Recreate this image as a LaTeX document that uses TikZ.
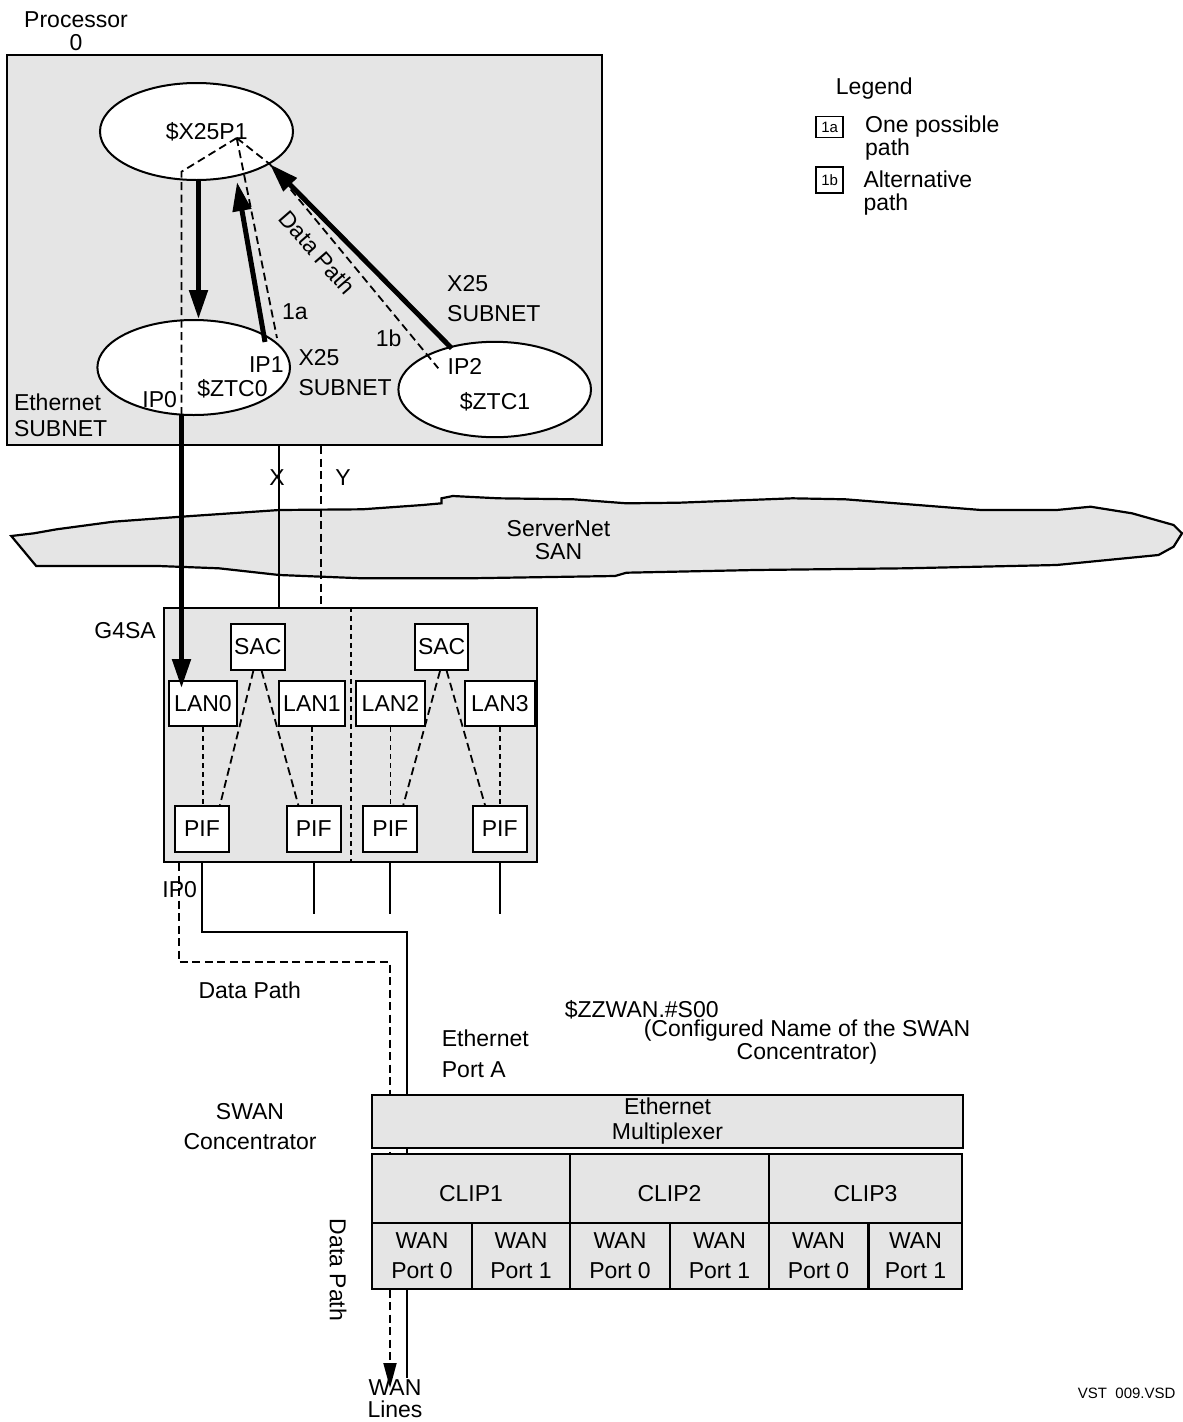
\documentclass[tikz,border=0pt]{standalone}
\usepackage{fontspec}
\setmainfont{Liberation Sans}
\usetikzlibrary{arrows.meta,shapes.geometric}
\pgfdeclarelayer{back}
\pgfsetlayers{back,main}
\definecolor{panel}{RGB}{229,229,229}
\newcommand\swfont{\fontsize{23}{23.5}\selectfont}
\tikzset{
  swan/.style={x=1pt,y=-1pt},
  txt/.style={inner sep=0pt,align=center,font=\swfont},
  frame/.style={draw,line width=2.2pt,fill=panel,inner sep=0pt},
  oval/.style={draw,line width=2pt,fill=white,ellipse,inner sep=0pt},
  unit/.style={draw,line width=2.2pt,fill=white,inner sep=0pt,minimum height=45.5,font=\swfont},
  cell/.style={draw,line width=2pt,fill=panel,inner sep=0pt,align=center,font=\swfont,
    execute at begin node=\rule{0pt}{27pt}},
  legbox/.style={draw,line width=1.8pt,inner sep=0pt,minimum width=27,font=\fontsize{15}{16}\selectfont},
  wire/.style={line width=2pt},
  dashpath/.style={line width=1.8pt,dash pattern=on 8pt off 4.5pt},
  dotpath/.style={line width=1.8pt,dash pattern=on 5pt off 4pt},
  fatarrow/.style={line width=5pt,-{Triangle[length=29pt,width=18pt]}},
}

\begin{document}
\begin{tikzpicture}[swan]
  \useasboundingbox (0,0) rectangle (1183,1422);
  % processor 0
  \node[frame,minimum width=594.6,minimum height=390] (cpu) at (304.3,250) {};
  \node[txt] (cpulbl) at (76,31.3) {Processor\\0};
  \node[oval,minimum width=193,minimum height=97] (x25p1) at (196.5,131.5) {};
  \node[oval,minimum width=192.6,minimum height=95] (ztc0) at (193.7,367.5) {};
  \node[oval,minimum width=192.6,minimum height=95.4] (ztc1) at (494.7,389.5) {};
  \node[txt] (x25p1lbl) at (206.7,131.7) {\$X25P1};
  \node[txt] (ztc0lbl) at (232.5,389) {\$ZTC0};
  \node[txt] (ztc1lbl) at (495,401.7) {\$ZTC1};
  \node[txt] (ip0lbl) at (159.7,399.7) {IP0};
  \node[txt] (ip1lbl) at (266.3,365) {IP1};
  \node[txt] (ip2lbl) at (465,366.7) {IP2};
  \node[txt,align=left,anchor=west] (x25low) at (298.3,372.8) {X25\\[7pt]SUBNET};
  \node[txt,align=left,anchor=west] (x25up) at (447,298.3) {X25\\[6.5pt]SUBNET};
  \node[txt,align=left,anchor=west] (ethsub) at (13.8,415) {Ethernet\\[2.8pt]SUBNET};
  \node[txt] (path1a) at (295,311.7) {1a};
  \node[txt] (path1b) at (388.7,338.3) {1b};
  \node[txt,rotate=-49] (dp1) at (317.5,252.5) {Data Path};
  \coordinate (hub) at (236.7,138);
  \coordinate (ip0) at (181.5,414);
  \coordinate (ip1) at (265,342);
  \coordinate (ip1path) at (277,338);
  \coordinate (ip2) at (451.7,348.3);
  \coordinate (ip2path) at (438.3,368.3);
  \coordinate (x25in) at (237,182);
  \coordinate (downtop) at ([xshift=2pt]x25p1.south);
  \draw[dashpath] (hub) -- ++(-55.2,33.7) -- (ip0);
  \draw[dashpath] (hub) -- (ip1path);
  \draw[dashpath] (hub) -- (x25p1.-24) -- (ip2path);
  \draw[fatarrow] (downtop) -- (downtop |- ztc0.north);
  \draw[fatarrow] (ip1) -- (x25in);
  \draw[fatarrow] (ip2) -- (x25p1.-24);

  % legend
  \node[txt] (legend) at (874.3,88.3) {Legend};
  \node[legbox,minimum height=21] (key1a) at (829.7,127) {1a};
  \node[legbox,minimum height=26] (key1b) at (829.7,180.3) {1b};
  \node[txt,align=left,anchor=west] (key1atxt) at (865,138) {One possible\\path};
  \node[txt,align=left,anchor=west] (key1btxt) at (863.3,193) {Alternative\\path};

  % ServerNet SAN
  \filldraw[fill=panel,line width=2.2pt] (11.3,536) -- (34,533.3) -- (56.6,529.3) -- (113.2,521.7)
    -- (181.1,516.7) -- (279.2,510) -- (362.3,509.3) -- (422.6,505) -- (441.5,503.3)
    -- (441.5,498.3) -- (452.8,496) -- (498.1,498.3) -- (573.6,499.3) -- (626.4,503.3)
    -- (679.2,502.7) -- (792.5,498.3) -- (845.3,499.3) -- (981.1,510) -- (1056.6,510)
    -- (1090.6,506.7) -- (1132,513.3) -- (1173.6,525) -- (1182,533.3) -- (1173.6,546.7)
    -- (1158.5,555) -- (1056.6,565) -- (905.7,568.3) -- (754.7,570) -- (626.4,572.7)
    -- (615.1,576) -- (467.9,578.3) -- (362.3,578.3) -- (279.2,575) -- (218.9,568.3)
    -- (158.5,566) -- (36.2,566) -- cycle;
  \node[txt] (san) at (558.5,540) {ServerNet\\SAN};
  \node[txt] (xlbl) at (277,478) {X};
  \node[txt] (ylbl) at (343,478) {Y};
  \coordinate (xbus) at (279.3,478);
  \coordinate (ybus) at (321,478);

  % G4SA
  \node[frame,minimum width=373.3,minimum height=254] (g4sa) at (350.65,735) {};
  \node[txt,anchor=east] (g4salbl) at (156,631) {G4SA};
  \draw[wire] (cpu.south -| xbus) -- (g4sa.north -| xbus);
  \draw[dashpath] (cpu.south -| ybus) -- (g4sa.north -| ybus);
  \draw[dotpath] (g4sa.north) -- (g4sa.south);
  \node[unit,minimum width=54.3] (sac0) at (257.85,647) {SAC};
  \node[unit,minimum width=53.3] (sac1) at (441.65,647) {SAC};
  \foreach \n/\x/\w in {0/203/67.4,1/312/66,2/390.5/69,3/500/70}
    \node[unit,minimum width=\w] (lan\n) at (\x,703.4) {LAN\n};
  \foreach \n/\x in {0/202,1/313.7,2/390.3,3/499.7}
    \node[unit,minimum width=54] (pif\n) at (\x,828.9) {PIF};
  \foreach \n in {0,...,3}
    \draw[dotpath] (lan\n.south) -- (lan\n.south |- pif\n.north);
  \draw[dashpath] ([xshift=-4.5pt]sac0.south) -- ([xshift=18pt]pif0.north);
  \draw[dashpath] ([xshift=3.8pt]sac0.south) -- ([xshift=-15.4pt]pif1.north);
  \draw[dashpath] ([xshift=-1.6pt]sac1.south) -- ([xshift=13pt]pif2.north);
  \draw[dashpath] ([xshift=5pt]sac1.south) -- ([xshift=-14.7pt]pif3.north);
  \coordinate (lan0in) at (181.5,688);
  \draw[fatarrow] (ip0) -- (lan0in);
  \foreach \n in {1,2,3}
    \draw[wire] (pif\n.south |- g4sa.south) -- ++(0,51);

  % SWAN concentrator
  \node[txt] (ip0b) at (179.7,889.3) {IP0};
  \node[txt] (dp2) at (249.7,990) {Data Path};
  \node[txt,align=left,anchor=west] (ethport) at (441.7,1054) {Ethernet\\[8pt]Port A};
  \node[txt] (zzwan) at (641.7,1010) {\$ZZWAN.\#S00};
  \node[txt] (confname) at (807,1042) {(Configured Name of the SWAN\\Concentrator)};
  \node[txt] (swanlbl) at (250,1126.5) {SWAN\\[7pt]Concentrator};
  \node[cell,minimum width=591,minimum height=53] (mux) at (667.5,1121.5) {Ethernet\\[1.5pt]Multiplexer};
  \foreach \x/\w [count=\i] in {471/198,669.5/199,865.5/193}
    \node[cell,minimum width=\w,minimum height=69] (clip\i) at (\x,1188.5) {CLIP\i};
  \foreach \x/\w/\p [count=\i] in {422/100/0,521/98/1,620/100/0,719.5/99/1,818.5/99/0,915.5/93/1}
    \node[cell,minimum width=\w,minimum height=66] (wan\i) at (\x,1256) {WAN\\[6.5pt]Port \p};
  \coordinate (solidend) at (406.7,1378);
  \coordinate (wantip) at (390,1388);
  \begin{pgfonlayer}{back}
    \draw[wire] (pif0.south |- g4sa.south) -- ++(0,69) -| (solidend);
    \draw[dashpath,-{Triangle[length=25pt,width=13pt]}] ([xshift=16pt]g4sa.south west) -- ++(0,99) -| (wantip);
  \end{pgfonlayer}
  \node[txt,rotate=-90] (dp3) at (338,1270) {Data Path};
  \node[txt] (wanlines) at (395,1399) {WAN\\[-1.5pt]Lines};
  \node[txt,font=\fontsize{15}{16}\selectfont] (vst) at (1126.7,1393.3) {VST\ \ 009.VSD};
\end{tikzpicture}
\end{document}
